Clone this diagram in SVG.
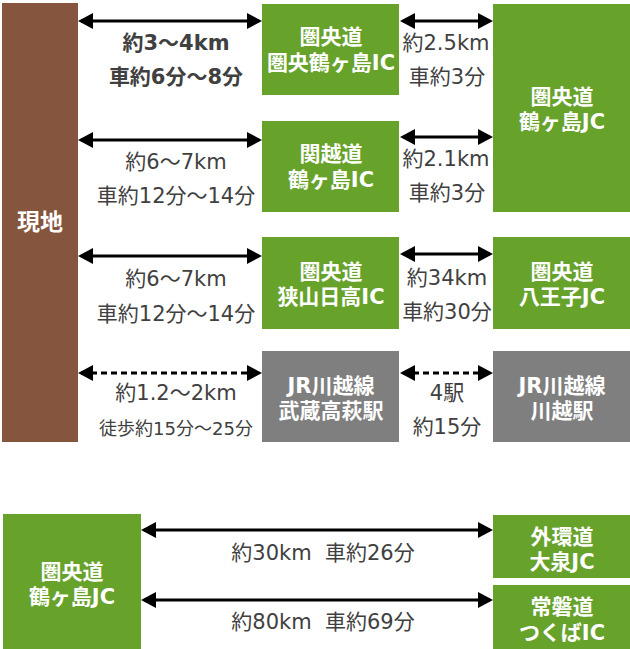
<svg xmlns="http://www.w3.org/2000/svg" width="630" height="649" viewBox="0 0 630 649">
<style>
.brown{fill:#85553D}
.green{fill:#67A22B}
.gray{fill:#7F7F7F}
text{font-family:"DejaVu Sans","Noto Sans CJK JP",sans-serif;dominant-baseline:central;text-anchor:middle}
.nl{fill:#FFFFFF;font-weight:bold;font-size:21px}
.big{font-size:23px}
.dl{fill:#404040;font-size:21px}
.db{fill:#404040;font-size:21px;font-weight:bold}
.ds{fill:#404040;font-size:18px}
.arr{stroke:#000;stroke-width:3;fill:none;marker-start:url(#ah);marker-end:url(#ah)}
.dash{stroke-dasharray:6 4}
</style>
<defs>
<marker id="ah" markerUnits="userSpaceOnUse" markerWidth="16" markerHeight="16" refX="12" refY="8" orient="auto-start-reverse" viewBox="0 0 16 16">
<path d="M0,0 L15,8 L0,16 z" fill="#000"/>
</marker>
</defs>

<g id="genchi"><rect class="brown" x="2" y="3" width="76" height="439"/><text class="nl big" x="40" y="222">現地</text></g>

<g id="ken-tsurugashima-ic"><rect class="green" x="262" y="4" width="137" height="91"/><text class="nl" x="331" y="37">圏央道</text><text class="nl" x="331" y="63">圏央鶴ヶ島IC</text></g>
<g id="kanetsu-tsurugashima-ic"><rect class="green" x="262" y="121" width="137" height="91"/><text class="nl" x="331" y="154">関越道</text><text class="nl" x="331" y="180">鶴ヶ島IC</text></g>
<g id="sayama-hidaka-ic"><rect class="green" x="262" y="237" width="137" height="92"/><text class="nl" x="331" y="272">圏央道</text><text class="nl" x="331" y="297">狭山日高IC</text></g>
<g id="musashi-takahagi"><rect class="gray" x="262" y="351" width="137" height="91"/><text class="nl" x="331" y="386">JR川越線</text><text class="nl" x="331" y="411">武蔵高萩駅</text></g>

<g id="tsurugashima-jc"><rect class="green" x="493" y="4" width="137" height="208"/><text class="nl" x="562" y="97">圏央道</text><text class="nl" x="562" y="122">鶴ヶ島JC</text></g>
<g id="hachioji-jc"><rect class="green" x="493" y="237" width="137" height="92"/><text class="nl" x="562" y="272">圏央道</text><text class="nl" x="562" y="297">八王子JC</text></g>
<g id="kawagoe"><rect class="gray" x="493" y="351" width="137" height="91"/><text class="nl" x="562" y="386">JR川越線</text><text class="nl" x="562" y="411">川越駅</text></g>

<g id="tsurugashima-jc-2"><rect class="green" x="3" y="514" width="138" height="135"/><text class="nl" x="72" y="572">圏央道</text><text class="nl" x="72" y="597">鶴ヶ島JC</text></g>
<g id="oizumi-jc"><rect class="green" x="493" y="515" width="137" height="63"/><text class="nl" x="562" y="537">外環道</text><text class="nl" x="562" y="562">大泉JC</text></g>
<g id="tsukuba-ic"><rect class="green" x="493" y="585" width="137" height="64"/><text class="nl" x="562" y="607">常磐道</text><text class="nl" x="562" y="633">つくばIC</text></g>

<g id="connectors">
<line class="arr" x1="81" y1="21" x2="259" y2="21"/>
<line class="arr" x1="81" y1="140" x2="259" y2="140"/>
<line class="arr" x1="81" y1="256" x2="259" y2="256"/>
<line class="arr dash" x1="81" y1="373" x2="259" y2="373"/>
<line class="arr" x1="403" y1="21" x2="490" y2="21"/>
<line class="arr" x1="403" y1="137" x2="490" y2="137"/>
<line class="arr" x1="403" y1="254" x2="490" y2="254"/>
<line class="arr dash" x1="403" y1="373" x2="490" y2="373"/>
<line class="arr" x1="144" y1="530" x2="490" y2="530"/>
<line class="arr" x1="144" y1="600" x2="490" y2="600"/>
</g>

<g id="labels">
<text class="db" x="176" y="43">約3～4km</text>
<text class="db" x="176" y="77">車約6分～8分</text>
<text class="dl" x="176" y="162">約6～7km</text>
<text class="dl" x="176" y="196">車約12分～14分</text>
<text class="dl" x="176" y="279">約6～7km</text>
<text class="dl" x="176" y="314">車約12分～14分</text>
<text class="dl" x="176" y="393">約1.2～2km</text>
<text class="ds" x="176" y="428">徒歩約15分～25分</text>
<text class="dl" x="446" y="43">約2.5km</text>
<text class="dl" x="447" y="77">車約3分</text>
<text class="dl" x="446" y="159">約2.1km</text>
<text class="dl" x="447" y="193">車約3分</text>
<text class="dl" x="447" y="278">約34km</text>
<text class="dl" x="447" y="312">車約30分</text>
<text class="dl" x="447" y="393">4駅</text>
<text class="dl" x="447" y="427">約15分</text>
<text class="dl" x="323" y="553" xml:space="preserve">約30km  車約26分</text>
<text class="dl" x="323" y="622" xml:space="preserve">約80km  車約69分</text>
</g>
</svg>
